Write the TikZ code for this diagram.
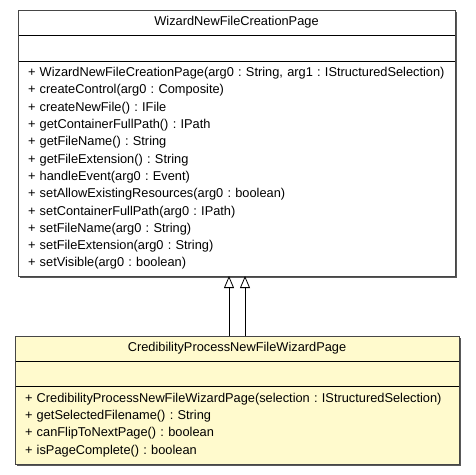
\documentclass[tikz,border=0pt]{standalone}
\usepackage{fontspec}
\setmainfont{Liberation Sans}
\usetikzlibrary{positioning, arrows.meta, backgrounds, calc}
\definecolor{classfill}{RGB}{255,250,205}
\definecolor{classedge}{RGB}{70,70,70}
\frenchspacing
\hyphenpenalty=10000
\tikzset{
  compartment/.style={
    draw=black,
    line width=0.8pt,
    rectangle,
    inner xsep=10pt,
    inner ysep=0pt,
    outer sep=0pt,
    font=\fontsize{12.8}{17.3}\selectfont
  },
  classname/.style={compartment, align=center},
  members/.style={compartment, align=left},
  shadowbox/.style={fill=black!65},
  generalization/.style={
    draw=black,
    line width=0.8pt,
    -{Triangle[open, width=10pt, length=12pt, line width=0.8pt]}
  }
}

\begin{document}
\begin{tikzpicture}[x=1pt, y=-1pt]
    \useasboundingbox (0,0) rectangle (475,475);
    % superclass
    \node[classname, anchor=north west, minimum width=437pt, minimum height=25pt, fill=white]
      (supername) at (18,10) {WizardNewFileCreationPage};
    \node[compartment, below=0pt of supername, minimum width=437pt, minimum height=26pt, fill=white] (superattr) {};
    \node[members, below=0pt of superattr, minimum width=437pt, minimum height=215pt, text width=417pt, fill=white]
      (superops) {+ WizardNewFileCreationPage(arg0 : String, arg1 : IStructuredSelection)\\
      + createControl(arg0 : Composite)\\
      + createNewFile() : IFile\\
      + getContainerFullPath() : IPath\\
      + getFileName() : String\\
      + getFileExtension() : String\\
      + handleEvent(arg0 : Event)\\
      + setAllowExistingResources(arg0 : boolean)\\
      + setContainerFullPath(arg0 : IPath)\\
      + setFileName(arg0 : String)\\
      + setFileExtension(arg0 : String)\\
      + setVisible(arg0 : boolean)};
    % subclass
    \node[classname, anchor=north west, minimum width=444pt, minimum height=25pt, fill=classfill]
      (subname) at (15,336) {CredibilityProcessNewFileWizardPage};
    \node[compartment, below=0pt of subname, minimum width=444pt, minimum height=25pt, fill=classfill] (subattr) {};
    \node[members, below=0pt of subattr, minimum width=444pt, minimum height=78pt, text width=424pt, fill=classfill]
      (subops) {+ CredibilityProcessNewFileWizardPage(selection : IStructuredSelection)\\
      + getSelectedFilename() : String\\
      + canFlipToNextPage() : boolean\\
      + isPageComplete() : boolean};
    % outlines and shadows
    \begin{scope}[on background layer]
      \fill[shadowbox] ($(supername.north west)+(2,2)$) rectangle ($(superops.south east)+(2,2)$);
      \fill[shadowbox] ($(subname.north west)+(2,2)$) rectangle ($(subops.south east)+(2,2)$);
    \end{scope}
    \draw[classedge, line width=1pt] (supername.north west) rectangle (superops.south east);
    \draw[classedge, line width=1pt] (subname.north west) rectangle (subops.south east);
    % inheritance
    \draw[generalization] ([xshift=-8pt]subname.north) -- ([xshift=-8pt]subname.north |- superops.south);
    \draw[generalization] ([xshift=8pt]subname.north) -- ([xshift=8pt]subname.north |- superops.south);
\end{tikzpicture}
\end{document}
